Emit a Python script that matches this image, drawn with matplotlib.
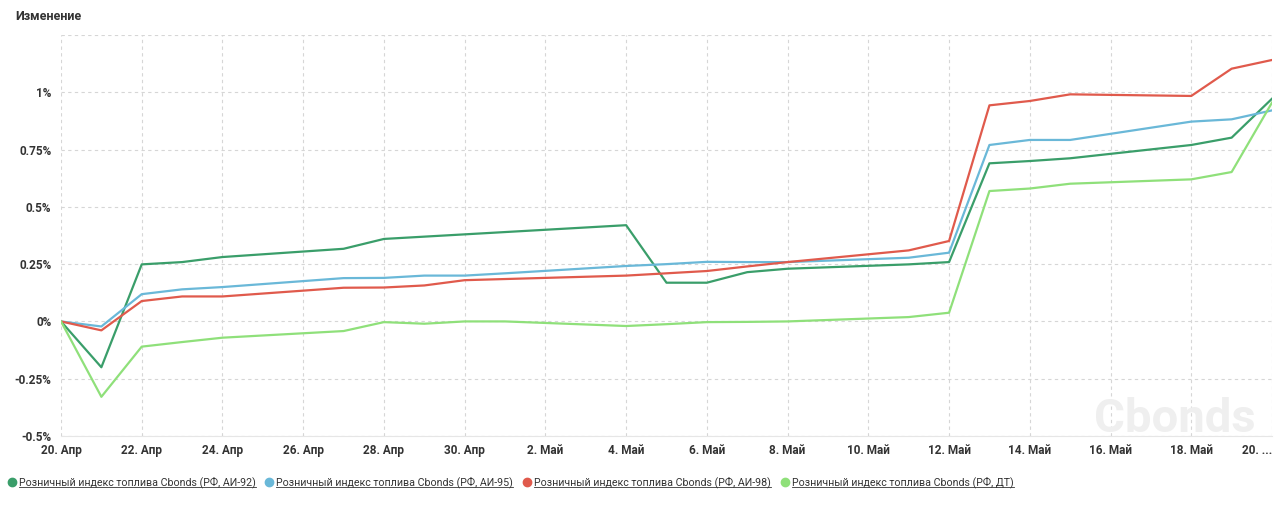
import numpy as np
import matplotlib
matplotlib.use("Agg")
import matplotlib.pyplot as plt
import matplotlib.dates as mdates
from matplotlib.ticker import FixedLocator, FuncFormatter

plt.rcParams['font.family'] = ['Roboto', 'DejaVu Sans']

dates = np.array([
    '2020-04-20', '2020-04-21', '2020-04-22', '2020-04-23', '2020-04-24',
    '2020-04-27', '2020-04-28', '2020-04-29', '2020-04-30', '2020-05-01',
    '2020-05-04', '2020-05-05', '2020-05-06', '2020-05-07', '2020-05-08',
    '2020-05-11', '2020-05-12', '2020-05-13', '2020-05-14', '2020-05-15',
    '2020-05-18', '2020-05-19', '2020-05-20'], dtype='datetime64[D]')

ai92 = [0.0, -0.20, 0.249, 0.259, 0.281,
        0.317, 0.360, 0.370, 0.380, 0.390,
        0.420, 0.169, 0.169, 0.215, 0.230,
        0.249, 0.259, 0.690, 0.700, 0.712,
        0.770, 0.802, 0.972]
ai95 = [0.0, -0.022, 0.119, 0.140, 0.150,
        0.189, 0.190, 0.200, 0.200, 0.210,
        0.242, 0.250, 0.260, 0.259, 0.259,
        0.278, 0.300, 0.770, 0.792, 0.792,
        0.872, 0.882, 0.921]
ai98 = [0.0, -0.039, 0.089, 0.109, 0.109,
        0.147, 0.148, 0.157, 0.180, 0.185,
        0.200, 0.210, 0.220, 0.240, 0.259,
        0.310, 0.351, 0.943, 0.962, 0.991,
        0.984, 1.103, 1.141]
dt = [0.0, -0.329, -0.110, -0.090, -0.071,
      -0.042, -0.003, -0.010, 0.000, 0.000,
      -0.020, -0.012, -0.003, -0.002, 0.000,
      0.019, 0.038, 0.569, 0.580, 0.601,
      0.620, 0.652, 0.955]

names = ['Розничный индекс топлива Cbonds (РФ, АИ-92)',
         'Розничный индекс топлива Cbonds (РФ, АИ-95)',
         'Розничный индекс топлива Cbonds (РФ, АИ-98)',
         'Розничный индекс топлива Cbonds (РФ, ДТ)']
colors = ['#3a9e6a', '#6ab8d8', '#e05a4c', '#8fe07a']
series = [ai92, ai95, ai98, dt]

y_ticks = [-0.5, -0.25, 0, 0.25, 0.5, 0.75, 1, 1.25]
y_labels = ['-0.5%', '-0.25%', '0%', '0.25%', '0.5%', '0.75%', '1%', '']
months_ru = {4: 'Апр', 5: 'Май'}

fig = plt.figure(figsize=(12.8, 5.09), dpi=100)
ax = fig.add_axes([61 / 1280, 1 - 436 / 509, (1272 - 61) / 1280, (436 - 35) / 509])

xd = mdates.date2num(dates.astype('datetime64[s]').astype(object))
# watermark
fig.text(1256 / 1280, 1 - 432 / 509, 'Cbonds', ha='right', va='baseline',
         fontsize=34, color='#efefef', fontweight='bold', zorder=0)

for vals, c in zip(series, colors):
    ax.plot(xd, vals, color=c, lw=1.6, solid_joinstyle='round', zorder=3)

ax.set_xlim(xd[0], xd[-1])
ax.set_ylim(-0.5, 1.25)
ax.patch.set_alpha(0)

tick_days = np.arange(np.datetime64('2020-04-20'), np.datetime64('2020-05-21'), 2)
tick_pos = mdates.date2num(tick_days.astype('datetime64[s]').astype(object))
ax.xaxis.set_major_locator(FixedLocator(tick_pos))


def fmt_date(x, pos):
    d = mdates.num2date(x)
    if pos == len(tick_pos) - 1:
        return f'{d.day}. ...'
    return f'{d.day}. {months_ru[d.month]}'


ax.xaxis.set_major_formatter(FuncFormatter(fmt_date))
ax.set_yticks(y_ticks)
ax.set_yticklabels(y_labels)

ax.grid(True, color='#d6d6d6', linestyle=(0, (3, 3)), lw=0.8)
for s in ['top', 'right', 'left']:
    ax.spines[s].set_visible(False)
ax.spines['bottom'].set_color('#e6e6e6')
ax.tick_params(length=0, labelsize=8.5, labelcolor='#333333', pad=6)
ax.tick_params(axis='y', pad=7)
for lab in ax.get_xticklabels() + ax.get_yticklabels():
    lab.set_fontweight('bold')
# last date label is truncated and pulled inside the plot
last = ax.get_xticklabels()[-1]
last.set_horizontalalignment('right')
last.set_x(last.get_position()[0])

fig.text(15 / 1280, 1 - 17 / 509, 'Изменение', fontsize=9, fontweight='bold',
         color='#333333', va='center')

# legend with underlined entries
leg_x = [12, 269, 527, 785]
leg_y = 1 - 482 / 509
fig.canvas.draw()
renderer = fig.canvas.get_renderer()
for x0, name, c in zip(leg_x, names, colors):
    fig.lines.append(plt.Line2D([x0 / 1280], [leg_y], marker='o', ms=6, color=c,
                                transform=fig.transFigure, figure=fig))
    t = fig.text((x0 + 7) / 1280, leg_y, name, fontsize=7.7, color='#333333', va='center')
    bb = t.get_window_extent(renderer).transformed(fig.transFigure.inverted())
    fig.lines.append(plt.Line2D([bb.x0, bb.x1], [bb.y0 + 0.002, bb.y0 + 0.002],
                                color='#333333', lw=0.6,
                                transform=fig.transFigure, figure=fig))

fig.savefig('out.png', dpi=100, facecolor='white')
